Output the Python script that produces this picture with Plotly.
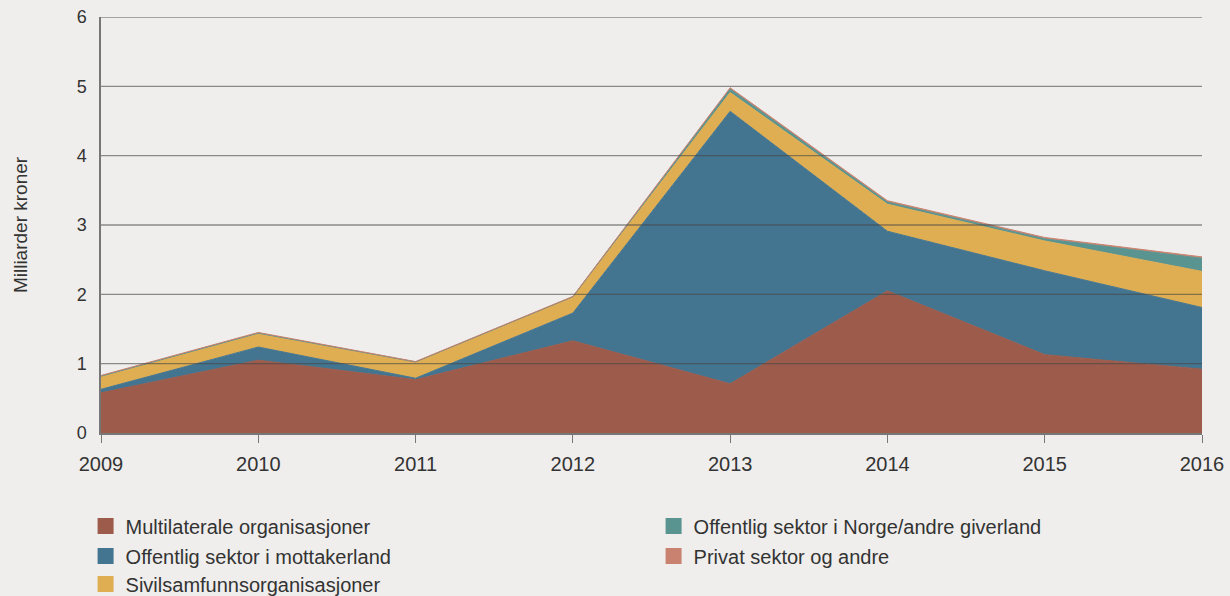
import plotly.graph_objects as go

years = [2009, 2010, 2011, 2012, 2013, 2014, 2015, 2016]
multilaterale = [0.58, 1.05, 0.77, 1.33, 0.71, 2.05, 1.13, 0.92]
offentlig_mottaker = [0.05, 0.19, 0.02, 0.40, 3.93, 0.86, 1.21, 0.89]
sivilsamfunn = [0.18, 0.19, 0.23, 0.23, 0.27, 0.39, 0.43, 0.52]
offentlig_norge = [0.01, 0.01, 0.005, 0.005, 0.05, 0.03, 0.03, 0.19]
privat = [0.01, 0.01, 0.005, 0.005, 0.02, 0.02, 0.02, 0.02]
y_ticks = [0, 1, 2, 3, 4, 5, 6]

# name, values, colour, legend row
series = [
    ("Multilaterale organisasjoner", multilaterale, "#9c5b4b", "legend"),
    ("Offentlig sektor i mottakerland", offentlig_mottaker, "#437591", "legend2"),
    ("Sivilsamfunnsorganisasjoner", sivilsamfunn, "#e0ae52", "legend3"),
    ("Offentlig sektor i Norge/andre giverland", offentlig_norge, "#5a9491", "legend"),
    ("Privat sektor og andre", privat, "#c9826f", "legend2"),
]

FONT = "Liberation Sans, Arial, sans-serif"
fig = go.Figure()
for name, vals, color, lg in series:
    fig.add_trace(go.Scatter(
        x=years, y=vals, name=name, stackgroup="one", mode="lines",
        line=dict(color=color, width=1), fillcolor=color, showlegend=False,
        hoverinfo="x+y+name",
    ))
for name, vals, color, lg in series:
    fig.add_trace(go.Scatter(
        x=[None], y=[None], name=name, mode="markers",
        marker=dict(symbol="square", size=16, color=color),
        legend=lg, showlegend=True,
    ))

for t in y_ticks[1:]:
    fig.add_shape(type="line", xref="paper", x0=0, x1=1, yref="y", y0=t, y1=t,
                  line=dict(color="rgba(70,70,70,0.6)", width=1.3), layer="above")

PLOT_BOTTOM, PLOT_H = 433, 416

def legend_row(ypix):
    return dict(orientation="h", x=-0.014, xanchor="left",
                y=(PLOT_BOTTOM - ypix) / PLOT_H, yanchor="middle",
                entrywidth=523, font=dict(size=20, color="#333333"),
                bgcolor="rgba(0,0,0,0)", traceorder="normal")

fig.update_layout(
    width=1230, height=596,
    paper_bgcolor="#efeeec", plot_bgcolor="#efeeec",
    margin=dict(l=101, r=28, t=17, b=163, autoexpand=False),
    font=dict(family=FONT, size=18, color="#333333"),
    xaxis=dict(range=[2009, 2016], tickvals=years, ticktext=[str(y) for y in years],
               showgrid=False, zeroline=False, showline=True, linecolor="#777777",
               linewidth=1.5, ticks="outside", ticklen=8, tickcolor="#777777",
               ticklabelstandoff=4, tickfont=dict(size=20), layer="above traces"),
    yaxis=dict(range=[0, 6], tickvals=y_ticks, showgrid=False, zeroline=False,
               showline=True, linecolor="#777777", linewidth=1.5, ticks="",
               ticklabelstandoff=9, tickfont=dict(size=18), layer="above traces",
               title=dict(text="Milliarder kroner", font=dict(size=19), standoff=44)),
    legend=legend_row(526),
    legend2=legend_row(556),
    legend3=legend_row(584),
    showlegend=True,
)

fig.write_html(
    "out.html",
    config={"displayModeBar": False},
    post_script="document.body.style.margin='0';document.body.style.background='#efeeec';",
)
